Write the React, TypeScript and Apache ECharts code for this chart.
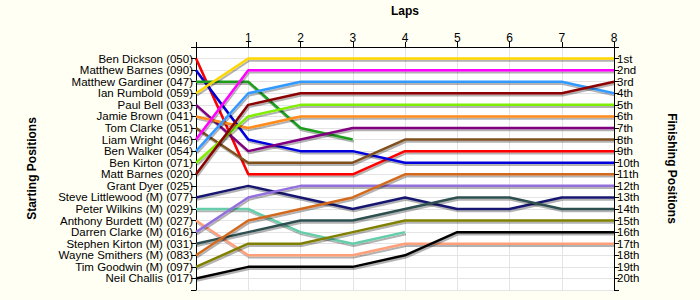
import React, { useEffect, useRef } from "react";
import * as echarts from "echarts";

const laps = [0, 1, 2, 3, 4, 5, 6, 7, 8];
const lapLabels = ["", "1", "2", "3", "4", "5", "6", "7", "8"];

const startNames = [
  "Ben Dickson (050)",
  "Matthew Barnes (090)",
  "Matthew Gardiner (047)",
  "Ian Rumbold (059)",
  "Paul Bell (033)",
  "Jamie Brown (041)",
  "Tom Clarke (051)",
  "Liam Wright (046)",
  "Ben Walker (054)",
  "Ben Kirton (071)",
  "Matt Barnes (020)",
  "Grant Dyer (025)",
  "Steve Littlewood (M) (077)",
  "Peter Wilkins (M) (029)",
  "Anthony Burdett (M) (027)",
  "Darren Clarke (M) (016)",
  "Stephen Kirton (M) (031)",
  "Wayne Smithers (M) (083)",
  "Tim Goodwin (M) (097)",
  "Neil Challis (017)",
];

const finishLabels = [
  "1st", "2nd", "3rd", "4th", "5th", "6th", "7th", "8th", "9th", "10th",
  "11th", "12th", "13th", "14th", "15th", "16th", "17th", "18th", "19th", "20th",
];

type Pos = number | null;
const benDickson: Pos[] = [1, 11, 11, 11, 9, 9, 9, 9, 9];
const matthewBarnes: Pos[] = [2, 8, 9, 9, 10, 10, 10, 10, 10];
const matthewGardiner: Pos[] = [3, 3, 7, 8, null, null, null, null, null];
const ianRumbold: Pos[] = [4, 1, 1, 1, 1, 1, 1, 1, 1];
const paulBell: Pos[] = [5, 9, 8, 7, 7, 7, 7, 7, 7];
const jamieBrown: Pos[] = [6, 7, 6, 6, 6, 6, 6, 6, 6];
const tomClarke: Pos[] = [7, 10, 10, 10, 8, 8, 8, 8, 8];
const liamWright: Pos[] = [8, 2, 2, 2, 2, 2, 2, 2, 2];
const benWalker: Pos[] = [9, 4, 3, 3, 3, 3, 3, 3, 4];
const benKirton: Pos[] = [10, 6, 5, 5, 5, 5, 5, 5, 5];
const mattBarnes: Pos[] = [11, 5, 4, 4, 4, 4, 4, 4, 3];
const steveLittlewood: Pos[] = [13, 12, 13, 14, 13, 14, 14, 13, 13];
const peterWilkins: Pos[] = [14, 14, 16, 17, 16, null, null, null, null];
const anthonyBurdett: Pos[] = [15, 18, 18, 18, 17, 17, 17, 17, 17];
const darrenClarke: Pos[] = [16, 13, 12, 12, 12, 12, 12, 12, 12];
const stephenKirton: Pos[] = [17, 16, 15, 15, 14, 13, 13, 14, 14];
const wayneSmithers: Pos[] = [18, 15, 14, 13, 11, 11, 11, 11, 11];
const timGoodwin: Pos[] = [19, 17, 17, 16, 15, 15, 15, 15, 15];
const neilChallis: Pos[] = [20, 19, 19, 19, 18, 16, 16, 16, 16];

const drivers: { name: string; color: string; pos: Pos[] }[] = [
  { name: startNames[0], color: "#ff0000", pos: benDickson },
  { name: startNames[1], color: "#0000dd", pos: matthewBarnes },
  { name: startNames[2], color: "#1f9e1f", pos: matthewGardiner },
  { name: startNames[3], color: "#ffd700", pos: ianRumbold },
  { name: startNames[4], color: "#800080", pos: paulBell },
  { name: startNames[5], color: "#ff8c1a", pos: jamieBrown },
  { name: startNames[6], color: "#7f4f1f", pos: tomClarke },
  { name: startNames[7], color: "#ff00ff", pos: liamWright },
  { name: startNames[8], color: "#3399ff", pos: benWalker },
  { name: startNames[9], color: "#80ee00", pos: benKirton },
  { name: startNames[10], color: "#8b0000", pos: mattBarnes },
  { name: startNames[12], color: "#191970", pos: steveLittlewood },
  { name: startNames[13], color: "#66cdaa", pos: peterWilkins },
  { name: startNames[14], color: "#ffa07a", pos: anthonyBurdett },
  { name: startNames[15], color: "#9370db", pos: darrenClarke },
  { name: startNames[16], color: "#2f4f4f", pos: stephenKirton },
  { name: startNames[17], color: "#d2691e", pos: wayneSmithers },
  { name: startNames[18], color: "#808000", pos: timGoodwin },
  { name: startNames[19], color: "#000000", pos: neilChallis },
];

const FONT = "Liberation Sans";

export default function App() {
  const ref = useRef<HTMLDivElement>(null);
  useEffect(() => {
    if (!ref.current) return;
    const chart = echarts.init(ref.current, undefined, { renderer: "svg" });
    const yCommon = {
      type: "value" as const,
      min: 0,
      max: 21,
      interval: 1,
      inverse: true,
      nameLocation: "middle" as const,
      nameTextStyle: { fontFamily: FONT, fontSize: 12, fontWeight: "bold" as const, color: "#000" },
      axisLine: { show: true, lineStyle: { color: "#000", width: 1 } },
      axisTick: { show: true, length: 5, lineStyle: { color: "#000" } },
    };
    chart.setOption({
      animation: false,
      backgroundColor: "#fffff4",
      grid: {
        left: 196,
        right: 86,
        top: 47,
        bottom: 10,
        show: true,
        backgroundColor: "#ffffff",
        borderWidth: 0,
      },
      xAxis: {
        type: "value",
        position: "top",
        min: 0,
        max: 8,
        interval: 1,
        name: "Laps",
        nameLocation: "middle",
        nameGap: 30,
        nameTextStyle: { fontFamily: FONT, fontSize: 12, fontWeight: "bold", color: "#000" },
        axisLine: { show: true, onZero: false, lineStyle: { color: "#000", width: 1 } },
        axisTick: { show: true, length: 5, lineStyle: { color: "#000" } },
        axisLabel: {
          fontFamily: FONT,
          fontSize: 12,
          color: "#000",
          margin: 3,
          formatter: (v: number) => lapLabels[v] ?? "",
        },
        splitLine: { show: true, lineStyle: { color: "#e4e4e4", width: 1 } },
      },
      yAxis: [
        {
          ...yCommon,
          position: "left",
          name: "Starting Positions",
          nameGap: 158,
          nameRotate: 90,
          axisLabel: {
            fontFamily: FONT,
            fontSize: 11.5,
            lineHeight: 11,
            color: "#000",
            margin: 3,
            formatter: (v: number) => (v >= 1 && v <= 20 ? startNames[v - 1] : ""),
          },
          splitLine: { show: true, lineStyle: { color: "#e4e4e4", width: 1 } },
        },
        {
          ...yCommon,
          position: "right",
          name: "Finishing Positions",
          nameGap: 52,
          nameRotate: -90,
          axisLabel: {
            fontFamily: FONT,
            fontSize: 11.5,
            lineHeight: 11,
            color: "#000",
            margin: 3,
            formatter: (v: number) => (v >= 1 && v <= 20 ? finishLabels[v - 1] : ""),
          },
          splitLine: { show: false },
        },
      ],
      series: drivers.map((d) => ({
        type: "line",
        name: d.name,
        yAxisIndex: 0,
        symbol: "none",
        data: laps
          .map((l, i) => [l, d.pos[i]])
          .filter((p) => p[1] !== null),
        lineStyle: {
          color: d.color,
          width: 2.5,
          shadowColor: "rgba(0,0,0,0.3)",
          shadowOffsetX: 1,
          shadowOffsetY: 2,
          shadowBlur: 1,
        },
        itemStyle: { color: d.color },
      })),
    });
    return () => chart.dispose();
  }, []);
  return <div ref={ref} style={{ width: 700, height: 300, position: "absolute", left: 0, top: 0 }} />;
}
